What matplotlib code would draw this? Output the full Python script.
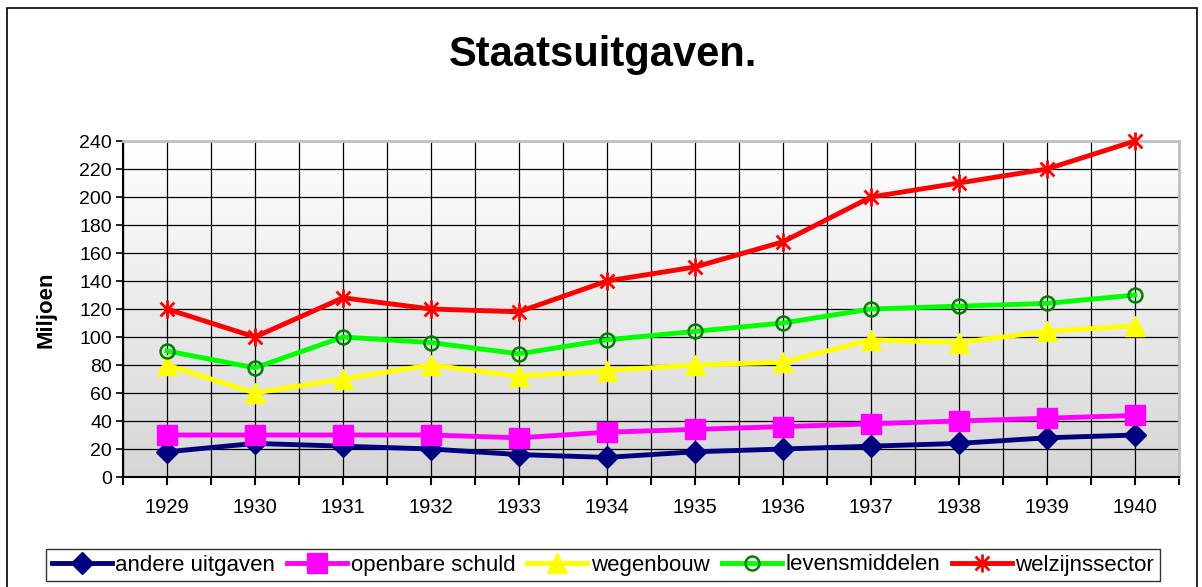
import numpy as np
import matplotlib
matplotlib.use("Agg")
import matplotlib.pyplot as plt
from matplotlib.path import Path
from matplotlib.patches import Rectangle
from matplotlib.colors import LinearSegmentedColormap

plt.rcParams['font.family'] = ['Liberation Sans', 'DejaVu Sans']

years = [1929, 1930, 1931, 1932, 1933, 1934, 1935, 1936, 1937, 1938, 1939, 1940]
andere = [18, 24, 22, 20, 16, 14, 18, 20, 22, 24, 28, 30]
openbare = [30, 30, 30, 30, 28, 32, 34, 36, 38, 40, 42, 44]
wegenbouw = [80, 60, 70, 80, 72, 76, 80, 82, 98, 96, 104, 108]
levens = [90, 78, 100, 96, 88, 98, 104, 110, 120, 122, 124, 130]
welzijn = [120, 100, 128, 120, 118, 140, 150, 168, 200, 210, 220, 240]
yticks = list(range(0, 241, 20))

fig = plt.figure(figsize=(12.02, 5.87), dpi=100)
fig.patches.append(Rectangle((7/1202, -0.05), (1197-7)/1202, 1.05 - 8/587,
                             transform=fig.transFigure, fill=False,
                             edgecolor='black', lw=1.2))

ax = fig.add_axes([123/1202, 1-477/587, (1179-123)/1202, (477-141)/587])
x = np.arange(len(years))
ax.set_xlim(-0.5, len(years)-0.5)
ax.set_ylim(0, 240)

# gradient background
grad = np.linspace(0, 1, 256).reshape(-1, 1)
cm = LinearSegmentedColormap.from_list('g', ['#d6d6d6', '#ffffff'])
ax.imshow(grad, cmap=cm, aspect='auto', origin='lower',
          extent=(-0.5, len(years)-0.5, 0, 240), zorder=0)

# grid
for yv in yticks:
    ax.axhline(yv, color='black', lw=0.9, zorder=1)
for xv in np.arange(-0.5, len(years), 0.5):
    ax.axvline(xv, color='black', lw=0.9, zorder=1)

star = Path([(-1, -1), (1, 1), (-1, 1), (1, -1), (0, -1.3), (0, 1.3)],
            [Path.MOVETO, Path.LINETO, Path.MOVETO, Path.LINETO, Path.MOVETO, Path.LINETO])

lw = 3.5
ax.plot(x, andere, color='#000080', lw=lw, marker='D', ms=11, mec='#000080',
        mfc='#000080', label='andere uitgaven', zorder=3, clip_on=False)
ax.plot(x, openbare, color='#ff00ff', lw=lw, marker='s', ms=14, mec='#ff00ff',
        mfc='#ff00ff', label='openbare schuld', zorder=3, clip_on=False)
ax.plot(x, wegenbouw, color='#ffff00', lw=lw, marker='^', ms=15, mec='#ffff00',
        mfc='#ffff00', label='wegenbouw', zorder=3, clip_on=False)
ax.plot(x, levens, color='#00ff00', lw=lw, marker='o', ms=10, mec='#008000',
        mfc='none', mew=1.8, label='levensmiddelen', zorder=3, clip_on=False)
ax.plot(x, welzijn, color='#ff0000', lw=lw, marker=star, ms=13, mec='#ff0000',
        mew=2.0, label='welzijnssector', zorder=3, clip_on=False)

ax.set_yticks(yticks)
ax.set_yticklabels([str(v) for v in yticks], fontsize=14)
ax.set_xticks(np.arange(-0.5, len(years), 0.5), minor=False)
ax.set_xticklabels(['' if i % 2 == 0 else str(years[i // 2]) for i in range(2*len(years)+1)],
                   fontsize=14.5)
ax.tick_params(axis='x', length=6, width=1.5, pad=9, color='black')
ax.tick_params(axis='y', length=5, width=1.2, pad=3, color='black')
for s in ['left', 'bottom']:
    ax.spines[s].set_color('black')
    ax.spines[s].set_linewidth(1.5)
for s in ['top', 'right']:
    ax.spines[s].set_color('#c0c0c0')
    ax.spines[s].set_linewidth(2)

ax.set_ylabel('Miljoen', fontsize=16, fontweight='bold')
ax.yaxis.set_label_coords((56-123)/1056, (477-309.5)/336)

fig.text(603/1202, 1-55/587, 'Staatsuitgaven.', fontsize=30, fontweight='bold',
         ha='center', va='center')

leg = fig.legend(loc='center', bbox_to_anchor=(603/1202, 1-565/587), ncol=5,
                 fontsize=16, frameon=True, fancybox=False, edgecolor='black',
                 handlelength=2.7, handletextpad=0.15, columnspacing=0.55,
                 borderpad=0.25, borderaxespad=0)
leg.get_frame().set_linewidth(1.0)

fig.savefig('out.png', dpi=100)
